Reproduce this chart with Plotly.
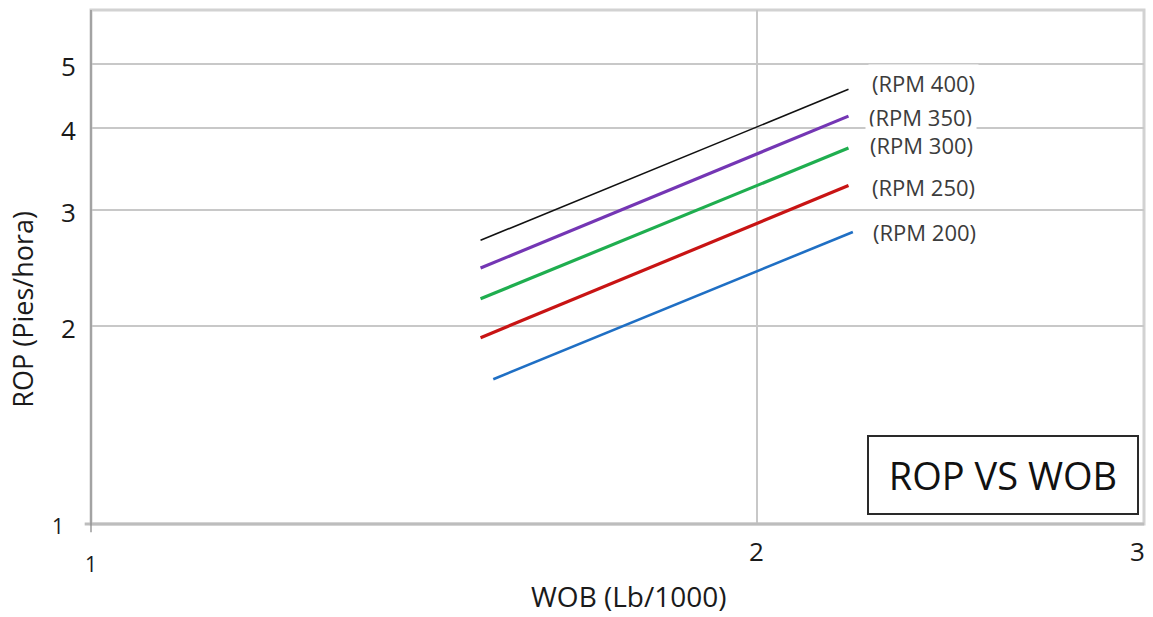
import math
import plotly.graph_objects as go

# WOB (Lb/1000) at the ends of each fitted line
wob_start = [1.50, 1.50, 1.50, 1.50, 1.52]
wob_end = [2.20, 2.20, 2.20, 2.20, 2.21]

# ROP (Pies/hora) at those ends, one entry per rotary speed
rpm_labels = ["(RPM 400)", "(RPM 350)", "(RPM 300)", "(RPM 250)", "(RPM 200)"]
rop_start = [2.70, 2.45, 2.20, 1.92, 1.66]
rop_end = [4.58, 4.17, 3.73, 3.27, 2.78]

y_ticks = [1, 2, 3, 4, 5]
x_ticks = [1, 2, 3]

colors = ["#111111", "#7436b4", "#1fae4f", "#c81414", "#1f6fc4"]
widths = [1.6, 3.2, 3.2, 3.2, 2.6]
# label nudges (px) relative to each line's right end
label_dx = [22, 19, 20, 22, 19]
label_dy = [6, -1, 3, -1, 0]

FONT = "Open Sans"

fig = go.Figure()

for i in range(len(rpm_labels)):
    fig.add_trace(go.Scatter(
        x=[wob_start[i], wob_end[i]],
        y=[rop_start[i], rop_end[i]],
        mode="lines",
        line=dict(color=colors[i], width=widths[i]),
        name=rpm_labels[i],
        showlegend=False,
        hoverinfo="x+y+name",
    ))

annotations = []
for i, lab in enumerate(rpm_labels):
    annotations.append(dict(
        x=math.log10(wob_end[i]), y=math.log10(rop_end[i]),
        xref="x", yref="y", text=lab, showarrow=False,
        xanchor="left", yanchor="middle",
        xshift=label_dx[i] - 3, yshift=label_dy[i],
        font=dict(family=FONT, size=22, color="#3c3c3c"),
        bgcolor="white", borderpad=3,
    ))

# y tick labels
for v in y_ticks:
    annotations.append(dict(
        x=0, y=math.log10(v), xref="paper", yref="y",
        text=str(v), showarrow=False,
        xanchor="right", yanchor="middle",
        xshift=-13 if v != 1 else -25, yshift=-2,
        font=dict(family=FONT, size=26 if v != 1 else 21, color="#1a1a1a"),
    ))

# x tick labels (positioned on the log axis, in paper space so "3" at the edge still shows)
for v in x_ticks:
    annotations.append(dict(
        x=math.log10(v) / 0.476, y=0, xref="paper", yref="paper",
        text=str(v), showarrow=False,
        xanchor="center", yanchor="top",
        xshift=0 if v != 3 else -9, yshift=-7 if v != 1 else -24,
        font=dict(family=FONT, size=26 if v != 1 else 21, color="#1a1a1a"),
    ))

# axis titles
annotations.append(dict(
    x=0.5, y=0, xref="paper", yref="paper", text="WOB (Lb/1000)",
    showarrow=False, xanchor="center", yanchor="middle", yshift=-72, xshift=11,
    font=dict(family=FONT, size=28, color="#1a1a1a"),
))
annotations.append(dict(
    x=0, y=0.417, xref="paper", yref="paper", text="ROP (Pies/hora)",
    showarrow=False, textangle=-90, xanchor="center", yanchor="middle",
    xshift=-68, font=dict(family=FONT, size=27, color="#1a1a1a"),
))

# chart caption box
annotations.append(dict(
    x=0.9955, y=0.018, xref="paper", yref="paper", text="ROP VS WOB",
    showarrow=False, xanchor="right", yanchor="bottom",
    font=dict(family=FONT, size=38, color="#111111"),
    bordercolor="#2a2a2a", borderwidth=2, bgcolor="white",
    borderpad=12, width=244,
))

shapes = [
    # plot frame
    dict(type="rect", xref="paper", yref="paper", x0=0, y0=0, x1=1, y1=1,
         line=dict(color="#d2d2d2", width=3), layer="below"),
    # bottom axis
    dict(type="line", xref="paper", yref="paper", x0=-0.006, x1=1, y0=0, y1=0,
         line=dict(color="#bdbdbd", width=3)),
    # left axis
    dict(type="line", xref="paper", yref="paper", x0=0, x1=0, y0=-0.016, y1=1,
         line=dict(color="#8a8a8a", width=1.3)),
]

fig.update_layout(
    width=1153, height=617,
    margin=dict(l=91, r=9, t=10, b=93),
    paper_bgcolor="white", plot_bgcolor="white",
    annotations=annotations, shapes=shapes,
    xaxis=dict(
        type="log", range=[0, 0.476],
        tickvals=[2], showticklabels=False,
        showgrid=True, gridcolor="#c8c8c8", gridwidth=1.5,
        zeroline=False, showline=False, ticks="",
    ),
    yaxis=dict(
        type="log", range=[0, 0.7815],
        tickvals=[2, 3, 4, 5], showticklabels=False,
        showgrid=True, gridcolor="#c8c8c8", gridwidth=1.5,
        zeroline=False, showline=False, ticks="",
    ),
)

fig.write_html("out.html")
